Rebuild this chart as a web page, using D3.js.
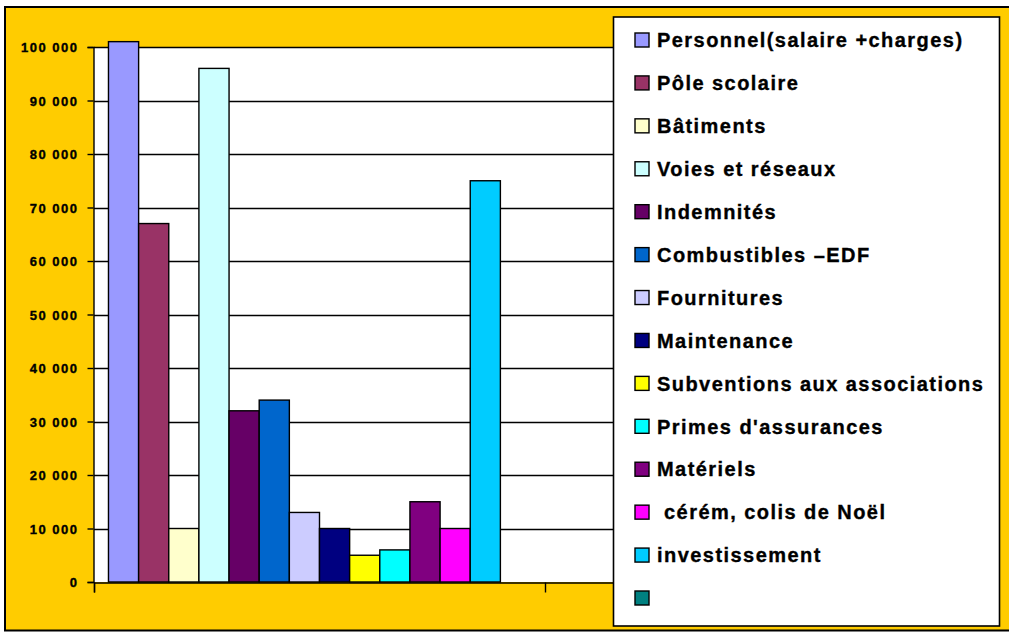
<!DOCTYPE html>
<html>
<head>
<meta charset="utf-8">
<script src="https://cdn.jsdelivr.net/npm/d3@7"></script>
<style>
  body { margin: 0; background: #fff; }
  svg text { font-family: "Liberation Sans", Arial, sans-serif; font-weight: bold; fill: #000; stroke: #000; stroke-width: 0.35px; }
</style>
</head>
<body>
<svg id="chart" width="1009" height="633"></svg>
<script>
// Series names (legend order)
const seriesNames = [
    "Personnel(salaire +charges)",
    "Pôle scolaire",
    "Bâtiments",
    "Voies et réseaux",
    "Indemnités",
    "Combustibles –EDF",
    "Fournitures",
    "Maintenance",
    "Subventions aux associations",
    "Primes d'assurances",
    "Matériels",
    " cérém, colis de Noël",
    "investissement",
    ""
];

// Values per series (first category; second category is empty)
const seriesValues = [101000, 67000, 10000, 96000, 32000, 34000, 13000, 10000, 5000, 6000, 15000, 10000, 75000, 0];

const seriesColors = [
    "#9999FF", "#993366", "#FFFFCC", "#CCFFFF", "#660066", "#0066CC", "#CCCCFF",
    "#000080", "#FFFF00", "#00FFFF", "#800080", "#FF00FF", "#00CCFF", "#008080"
];

const categories = [0, 1];
const yTicks = [0, 10000, 20000, 30000, 40000, 50000, 60000, 70000, 80000, 90000, 100000];

const svg = d3.select("#chart");

// Background + outer frame
svg.append("rect")
    .attr("x", 0).attr("y", 0).attr("width", 1009).attr("height", 633)
    .attr("fill", "#fff");
svg.append("rect")
    .attr("x", 5).attr("y", 7).attr("width", 1010).attr("height", 623.5)
    .attr("fill", "#FFCC00")
    .attr("stroke", "#000").attr("stroke-width", 2);

const plot = { left: 94, right: 996, top: 47, bottom: 582 };

const y = d3.scaleLinear().domain([0, 100000]).range([plot.bottom, plot.top]);
const x0 = d3.scaleBand().domain(categories).range([plot.left, plot.right]).padding(0);
const x1 = d3.scaleBand().domain(d3.range(seriesNames.length))
    .range([0, x0.bandwidth()]).paddingInner(0).paddingOuter(0.48);

// Plot area
svg.append("rect")
    .attr("x", plot.left).attr("y", plot.top)
    .attr("width", plot.right - plot.left).attr("height", plot.bottom - plot.top)
    .attr("fill", "#fff");

// Gridlines
svg.append("g")
    .selectAll("line")
    .data(yTicks.filter(d => d > 0))
    .join("line")
    .attr("x1", plot.left).attr("x2", plot.right)
    .attr("y1", d => Math.round(y(d)) + 0.5).attr("y2", d => Math.round(y(d)) + 0.5)
    .attr("stroke", "#000").attr("stroke-width", 1.4);

// Bars
svg.append("g")
    .selectAll("rect")
    .data(seriesValues.map((v, i) => ({ v, i })).filter(d => d.v > 0))
    .join("rect")
    .attr("x", d => x0(0) + x1(d.i))
    .attr("y", d => y(d.v))
    .attr("width", x1.bandwidth())
    .attr("height", d => y(0) - y(d.v))
    .attr("fill", d => seriesColors[d.i])
    .attr("stroke", "#000").attr("stroke-width", 1.4);

// Y axis
const fmt = d => d3.format(",")(d).replace(/,/g, " ");
const yAxis = svg.append("g")
    .attr("transform", `translate(${plot.left - 0.5},0)`)
    .call(d3.axisLeft(y).tickValues(yTicks).tickSize(6).tickPadding(6).tickFormat(fmt));
yAxis.select(".domain").attr("stroke", "#000").attr("stroke-width", 1.4);
yAxis.selectAll(".tick line").attr("stroke", "#000").attr("stroke-width", 1.4);
yAxis.selectAll(".tick text")
    .attr("font-size", "13px")
    .style("letter-spacing", "1.5px")
    .attr("dy", "0.36em")
    .attr("x", -15)
    .attr("font-family", null);

// X axis (no labels)
const xAxis = svg.append("g")
    .attr("transform", `translate(0,${plot.bottom + 0.5})`)
    .call(d3.axisBottom(d3.scaleLinear().domain([0, categories.length]).range([plot.left, plot.right]))
        .tickValues(d3.range(categories.length + 1)).tickSize(10).tickFormat(""));
xAxis.select(".domain").attr("stroke", "#000").attr("stroke-width", 1.4);
xAxis.selectAll(".tick line").attr("stroke", "#000").attr("stroke-width", 1.4);

// Legend
const legend = svg.append("g");
legend.append("rect")
    .attr("x", 613.5).attr("y", 17).attr("width", 386).attr("height", 609)
    .attr("fill", "#fff").attr("stroke", "#000").attr("stroke-width", 1.6);

const ly = d3.scalePoint().domain(d3.range(seriesNames.length)).range([40, 598]);

const items = legend.selectAll("g.item")
    .data(seriesNames)
    .join("g")
    .attr("class", "item")
    .attr("transform", (d, i) => `translate(0,${ly(i)})`);

items.append("rect")
    .attr("x", 635).attr("y", -7).attr("width", 14).attr("height", 14)
    .attr("fill", (d, i) => seriesColors[i])
    .attr("stroke", "#000").attr("stroke-width", 1.4);

items.append("text")
    .attr("x", 657).attr("y", 0).attr("dy", "0.36em")
    .attr("font-size", "20px")
    .style("letter-spacing", "1.45px")
    .style("white-space", "pre")
    .text(d => d);
</script>
</body>
</html>
